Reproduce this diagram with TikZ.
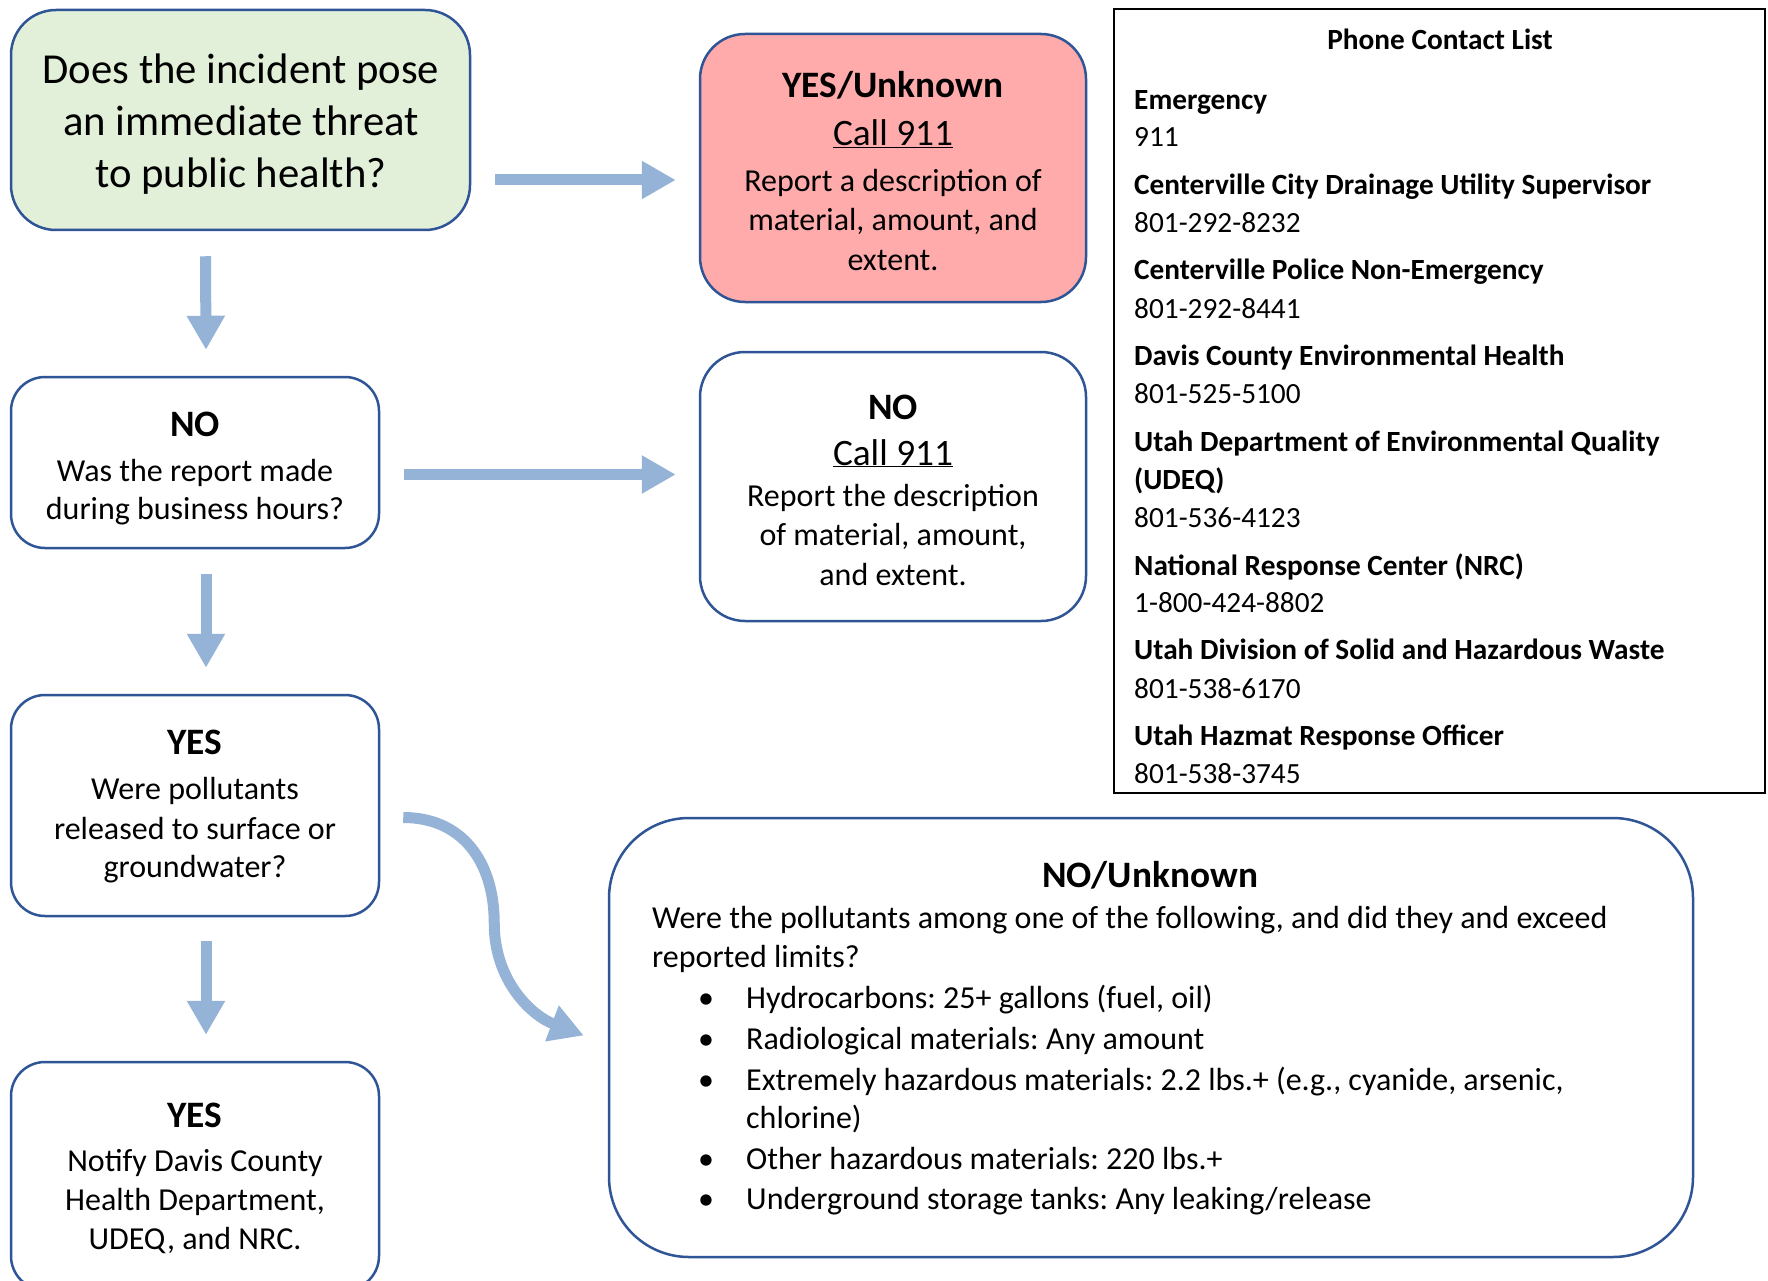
\documentclass[tikz,border=0pt]{standalone}
\usepackage{fontspec}
\setmainfont{Carlito}
\frenchspacing
\usetikzlibrary{arrows.meta,calc}
\definecolor{bord}{HTML}{2F5597}
\definecolor{arr}{HTML}{95B3D7}
\definecolor{gfill}{HTML}{E2EFD9}
\definecolor{rfill}{HTML}{FFABAB}
\tikzset{
  box/.style={draw=bord, line width=2.5pt, rectangle, inner sep=0pt},
  blk/.style={draw=arr, line width=11pt, -{Triangle[length=34pt,width=36pt]}},
  tbig/.style={font=\fontsize{42.7}{52}\selectfont, inner sep=0pt, anchor=base},
  tbody/.style={font=\fontsize{32}{39}\selectfont, inner sep=0pt, anchor=base},
  thead/.style={font=\fontsize{37.3}{45}\selectfont, inner sep=0pt, anchor=base},
  theadb/.style={font=\fontsize{37.3}{45}\selectfont\bfseries, inner sep=0pt, anchor=base},
  tph/.style={font=\fontsize{29.3}{35}\selectfont, inner sep=0pt, anchor=base west},
  tphb/.style={font=\fontsize{29.3}{35}\selectfont\bfseries, inner sep=0pt, anchor=base west},
  tleft/.style={font=\fontsize{32}{39}\selectfont, inner sep=0pt, anchor=base west},
}
\begin{document}
\begin{tikzpicture}[x=1pt,y=-1pt]
\path[use as bounding box, clip] (0,0) rectangle (1768,1281);
\fill[white] (0,0) rectangle (1768,1281);

% boxes
\node[box, fill=gfill, rounded corners=45pt, minimum width=459pt, minimum height=220pt] (q1) at (240.5,120) {};
\node[box, fill=rfill, rounded corners=45pt, minimum width=386pt, minimum height=268pt] (r1) at (893,168) {};
\node[draw=black, line width=1.5pt, rectangle, inner sep=0pt, minimum width=651pt, minimum height=784pt] (pl) at (1439.5,401) {};
\node[box, fill=white, rounded corners=34pt, minimum width=368pt, minimum height=171pt] (q2) at (195,462.5) {};
\node[box, fill=white, rounded corners=45pt, minimum width=386pt, minimum height=269pt] (w1) at (893,486.5) {};
\node[box, fill=white, rounded corners=34pt, minimum width=368pt, minimum height=221pt] (q3) at (195,805.5) {};
\node[box, fill=white, rounded corners=34pt, minimum width=368pt, minimum height=228pt] (q4) at (195,1176) {};
\node[box, fill=white, rounded corners=80pt, minimum width=1084pt, minimum height=439pt] (bg) at (1151,1037.5) {};

% arrows
\draw[blk] ($(q1.east)+(24,60)$) -- ($(r1.west)+(-23,12)$);
\draw[blk] ($(q1.south)+(-35,25)$) -- ($(q2.north)+(11,-26)$);
\draw[blk] ($(q2.east)+(24,12)$) -- ($(w1.west)+(-23,-12)$);
\draw[blk] ($(q2.south)+(11,25)$) -- ($(q3.north)+(11,-26)$);
\draw[blk] ($(q3.south)+(11,24)$) -- ($(q4.north)+(11,-26)$);
\draw[blk] ($(q3.east)+(23,12)$) .. controls ($(q3.east)+(81,12)$) and ($(q3.east)+(114,55)$) .. ($(q3.east)+(114,118)$)
   .. controls ($(q3.east)+(114,175)$) and ($(q3.east)+(151,210)$) .. ($(bg.west)+(-24,-2)$);

\begin{scope}[shift={(0,2)}]
% green box text
\node[tbig] (q1a) at (241,82) {Does the incident pose};
\node[tbig] (q1b) at (241,134) {an immediate threat};
\node[tbig] (q1c) at (241,186) {to public health?};

% red box text
\node[theadb] (r1a) at (893,96) {YES/Unknown};
\node[thead] (r1b) at (893,144) {\underline{Call 911}};
\node[tbody] (r1c) at (893,190) {Report a description of};
\node[tbody] (r1d) at (893,229) {material, amount, and};
\node[tbody] (r1e) at (893,268) {extent.};

% white NO box text
\node[theadb] (w1a) at (893,417) {NO};
\node[thead] (w1b) at (893,463) {\underline{Call 911}};
\node[tbody] (w1c) at (893,504) {Report the description};
\node[tbody] (w1d) at (893,543) {of material, amount,};
\node[tbody] (w1e) at (893,583) {and extent.};

% left NO box
\node[theadb] (q2a) at (195,434) {NO};
\node[tbody] (q2b) at (195,479) {Was the report made};
\node[tbody] (q2c) at (195,517) {during business hours?};

% YES box
\node[theadb] (q3a) at (195,752) {YES};
\node[tbody] (q3b) at (195,797) {Were pollutants};
\node[tbody] (q3c) at (195,837) {released to surface or};
\node[tbody] (q3d) at (195,875) {groundwater?};

% YES box 2
\node[theadb] (q4a) at (195,1125) {YES};
\node[tbody] (q4b) at (195,1169) {Notify Davis County};
\node[tbody] (q4c) at (195,1208) {Health Department,};
\node[tbody] (q4d) at (195,1247) {UDEQ, and NRC.};

% big box text
\node[theadb] (bga) at (1150,885) {NO/Unknown};
\node[tleft] (bgb) at (652,926) {Were the pollutants among one of the following, and did they and exceed};
\node[tleft] (bgc) at (652,965) {reported limits?};
\foreach \yy/\nm in {1006/i1,1047/i2,1088/i3,1167/i4,1207/i5}{
  \node[tbody] (b\nm) at (706,\yy) {\textbullet};
}
\node[tleft] (li1) at (746,1006) {Hydrocarbons: 25+ gallons (fuel, oil)};
\node[tleft] (li2) at (746,1047) {Radiological materials: Any amount};
\node[tleft] (li3) at (746,1088) {Extremely hazardous materials: 2.2 lbs.+ (e.g., cyanide, arsenic,};
\node[tleft] (li3b) at (746,1126) {chlorine)};
\node[tleft] (li4) at (746,1167) {Other hazardous materials: 220 lbs.+};
\node[tleft] (li5) at (746,1207) {Underground storage tanks: Any leaking/release};

% phone list
\node[font=\fontsize{29.3}{35}\selectfont\bfseries, inner sep=0pt, anchor=base] (pt) at (1440,48) {Phone Contact List};
\node[tphb] (p1a) at (1134,108) {Emergency};
\node[tph]  (p1b) at (1134,145) {911};
\node[tphb] (p2a) at (1134,193) {Centerville City Drainage Utility Supervisor};
\node[tph]  (p2b) at (1134,231) {801-292-8232};
\node[tphb] (p3a) at (1134,277) {Centerville Police Non-Emergency};
\node[tph]  (p3b) at (1134,316) {801-292-8441};
\node[tphb] (p4a) at (1134,363) {Davis County Environmental Health};
\node[tph]  (p4b) at (1134,401) {801-525-5100};
\node[tphb] (p5a) at (1134,449) {Utah Department of Environmental Quality};
\node[tphb] (p5b) at (1134,487) {(UDEQ)};
\node[tph]  (p5c) at (1134,525) {801-536-4123};
\node[tphb] (p6a) at (1134,573) {National Response Center (NRC)};
\node[tph]  (p6b) at (1134,610) {1-800-424-8802};
\node[tphb] (p7a) at (1134,657) {Utah Division of Solid and Hazardous Waste};
\node[tph]  (p7b) at (1134,696) {801-538-6170};
\node[tphb] (p8a) at (1134,743) {Utah Hazmat Response Officer};
\node[tph]  (p8b) at (1134,781) {801-538-3745};
\end{scope}
\end{tikzpicture}
\end{document}
